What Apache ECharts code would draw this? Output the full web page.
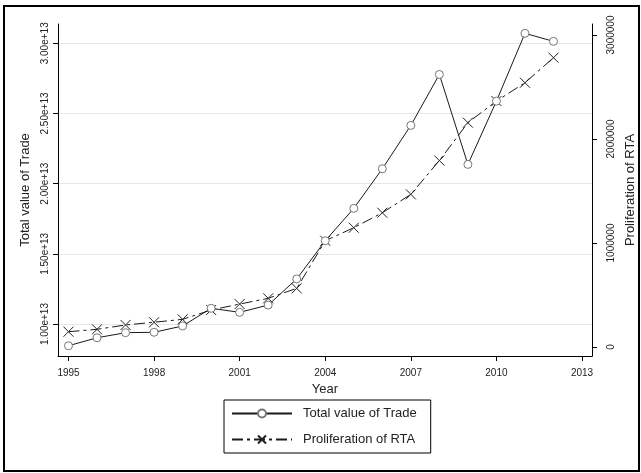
<!DOCTYPE html>
<html>
<head>
<meta charset="utf-8">
<script src="https://cdn.jsdelivr.net/npm/echarts@6/dist/echarts.min.js"></script>
<style>
  html, body { margin: 0; padding: 0; background: #fff; }
  #chart { width: 641px; height: 473px; }
</style>
</head>
<body>
<div id="chart"></div>
<script>
// Years on the horizontal axis
const years = [1995, 1996, 1997, 1998, 1999, 2000, 2001, 2002, 2003, 2004,
               2005, 2006, 2007, 2008, 2009, 2010, 2011, 2012];

// Total value of trade (left axis)
const tradeValues = [0.845e13, 0.902e13, 0.938e13, 0.941e13, 0.986e13, 1.112e13,
                     1.083e13, 1.135e13, 1.321e13, 1.593e13, 1.824e13, 2.106e13,
                     2.415e13, 2.778e13, 2.137e13, 2.588e13, 3.071e13, 3.014e13];

// Proliferation of RTA (right axis)
const rtaValues = [147000, 170000, 212000, 238000, 266000, 356000, 413000, 468000,
                   564000, 1022000, 1147000, 1291000, 1468000, 1793000, 2157000,
                   2365000, 2541000, 2782000];

// Tick positions
const yearTicks = [1995, 1998, 2001, 2004, 2007, 2010, 2013];
const tradeTicks = [1.0e13, 1.5e13, 2.0e13, 2.5e13, 3.0e13];
const rtaTicks = [0, 1000000, 2000000, 3000000];

const FONT = '"Liberation Sans", Arial, sans-serif';
const crossSymbol = 'path://M0,0L10,10M10,0L0,10';

const chart = echarts.init(document.getElementById('chart'), null, { renderer: 'canvas' });

chart.setOption({
  animation: false,
  backgroundColor: '#ffffff',
  textStyle: { fontFamily: FONT },
  graphic: [{
    type: 'rect',
    shape: { x: 4, y: 6, width: 635, height: 465 },
    style: { fill: 'none', stroke: '#000', lineWidth: 2 },
    silent: true
  }],
  grid: { left: 58, right: 49, top: 24, bottom: 117, containLabel: false, outerBoundsMode: 'none' },
  legend: {
    orient: 'vertical',
    left: 224,
    top: 400,
    padding: [7, 14, 7, 7],
    itemWidth: 60,
    itemHeight: 10,
    itemGap: 13,
    borderColor: '#000',
    borderWidth: 1,
    backgroundColor: '#fff',
    textStyle: { fontFamily: FONT, fontSize: 13, color: '#222', padding: [0, 0, 0, 6] },
    data: ['Total value of Trade', 'Proliferation of RTA']
  },
  xAxis: {
    type: 'value',
    min: 1994.632,
    max: 2013.35,
    name: 'Year',
    nameLocation: 'middle',
    nameGap: 20,
    nameTextStyle: { fontFamily: FONT, fontSize: 13, color: '#222' },
    axisLine: { show: true, onZero: false, lineStyle: { color: '#000', width: 1 } },
    axisTick: { show: true, length: 5, customValues: yearTicks, lineStyle: { color: '#000' } },
    axisLabel: { customValues: yearTicks, fontSize: 10, color: '#222', margin: 12,
                 formatter: v => String(v) },
    splitLine: { show: false }
  },
  yAxis: [{
    type: 'value',
    position: 'left',
    min: 0.772e13,
    max: 3.1375e13,
    name: 'Total value of Trade',
    nameLocation: 'middle',
    nameGap: 25,
    nameTextStyle: { fontFamily: FONT, fontSize: 13, color: '#222' },
    axisLine: { show: true, onZero: false, lineStyle: { color: '#000', width: 1 } },
    axisTick: { show: true, length: 5, customValues: tradeTicks, lineStyle: { color: '#000' } },
    axisLabel: { customValues: tradeTicks, rotate: 90, fontSize: 10, color: '#222', margin: 8,
                 formatter: v => (v / 1e13).toFixed(2) + 'e+13' },
    splitLine: { show: true, lineStyle: { color: '#e6e6e6', width: 1 } }
  }, {
    type: 'value',
    position: 'right',
    min: -86500,
    max: 3106000,
    name: 'Proliferation of RTA',
    nameLocation: 'middle',
    nameGap: 26,
    nameTextStyle: { fontFamily: FONT, fontSize: 13, color: '#222' },
    axisLine: { show: true, onZero: false, lineStyle: { color: '#000', width: 1 } },
    axisTick: { show: true, length: 5, customValues: rtaTicks, lineStyle: { color: '#000' } },
    axisLabel: { customValues: rtaTicks, rotate: 90, fontSize: 10, color: '#222', margin: 14,
                 formatter: v => String(v) },
    splitLine: { show: false }
  }],
  series: [{
    name: 'Total value of Trade',
    type: 'line',
    yAxisIndex: 0,
    data: years.map((y, i) => [y, tradeValues[i]]),
    symbol: 'circle',
    symbolSize: 8,
    showAllSymbol: true,
    lineStyle: { color: '#1a1a1a', width: 1, type: 'solid' },
    itemStyle: { color: '#fff', borderColor: '#777', borderWidth: 1 },
    z: 3
  }, {
    name: 'Proliferation of RTA',
    type: 'line',
    yAxisIndex: 1,
    data: years.map((y, i) => [y, rtaValues[i]]),
    symbol: crossSymbol,
    symbolSize: 10,
    showAllSymbol: true,
    lineStyle: { color: '#1a1a1a', width: 1, type: [11, 4, 3, 4] },
    itemStyle: { color: 'none', borderColor: '#222', borderWidth: 1, borderType: 'solid' },
    z: 2
  }]
});
</script>
</body>
</html>
